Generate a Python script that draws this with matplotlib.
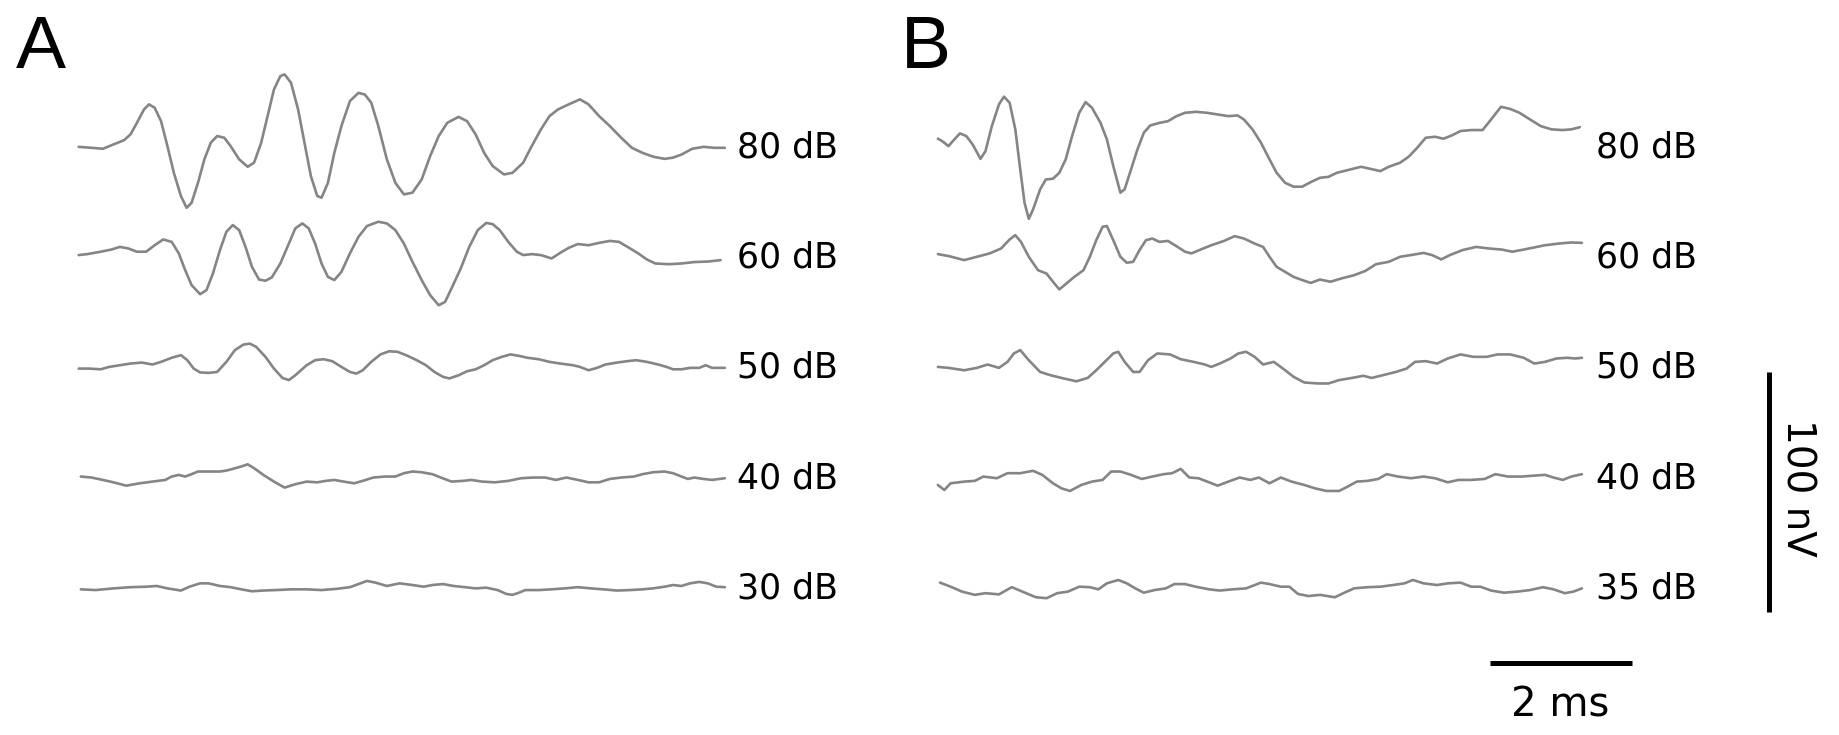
import numpy as np
import matplotlib
matplotlib.use("Agg")
import matplotlib.pyplot as plt

# ABR waveforms: time in ms, amplitude in nV
a80_t = [0.00, 0.18, 0.34, 0.49, 0.64, 0.73, 0.82, 0.92, 0.99, 1.07, 1.16, 1.25, 1.34, 1.44, 1.52, 1.59,
         1.68, 1.77, 1.86, 1.95, 2.05, 2.14, 2.26, 2.38, 2.47, 2.57, 2.66, 2.75, 2.84, 2.90, 2.99, 3.09,
         3.18, 3.27, 3.36, 3.42, 3.51, 3.60, 3.70, 3.82, 3.94, 4.03, 4.12, 4.22, 4.34, 4.46, 4.58, 4.70,
         4.83, 4.95, 5.07, 5.19, 5.35, 5.47, 5.59, 5.71, 5.83, 5.99, 6.11, 6.26, 6.38, 6.51, 6.63, 6.75,
         6.90, 7.06, 7.18, 7.33, 7.48, 7.64, 7.79, 7.94, 8.09, 8.25, 8.37, 8.49, 8.64, 8.80, 8.95, 9.10]
a80_v = [0.1, -0.3, -0.7, 1.1, 2.9, 5.3, 10.1, 15.7, 17.8, 16.4, 10.8, 0.4, -10.7, -20.4, -25.3, -23.2,
         -14.9, -5.1, 1.8, 4.6, 3.9, 0.4, -5.1, -8.2, -6.5, 1.8, 12.9, 24.0, 29.6, 30.3, 26.8, 15.7,
         1.8, -12.1, -20.4, -21.1, -14.9, -2.4, 8.75, 19.2, 22.6, 21.9, 18.5, 8.75, -5.1, -14.9, -19.7, -19.0,
         -13.5, -3.75, 4.6, 10.1, 12.6, 10.8, 5.3, -2.4, -7.9, -11.4, -10.7, -6.5, 0.4, 7.4, 12.9, 15.7,
         17.8, 19.9, 17.8, 12.9, 8.75, 3.9, -0.3, -2.4, -4.0, -4.9, -4.4, -3.1, -0.7, 0.1, -0.3, -0.3]

a60_t = [0.00, 0.12, 0.31, 0.46, 0.58, 0.70, 0.82, 0.95, 1.07, 1.19, 1.31, 1.41, 1.50, 1.59, 1.71, 1.80,
         1.89, 1.99, 2.08, 2.17, 2.26, 2.35, 2.44, 2.54, 2.63, 2.72, 2.84, 2.96, 3.05, 3.15, 3.24, 3.33,
         3.42, 3.51, 3.60, 3.70, 3.82, 3.94, 4.06, 4.22, 4.34, 4.46, 4.58, 4.70, 4.83, 4.95, 5.07, 5.16,
         5.25, 5.38, 5.50, 5.62, 5.74, 5.83, 5.93, 6.05, 6.17, 6.26, 6.38, 6.51, 6.66, 6.78, 6.90, 7.03,
         7.18, 7.33, 7.48, 7.61, 7.73, 7.88, 8.00, 8.12, 8.31, 8.49, 8.67, 8.86, 9.04]
a60_v = [1.0, 1.4, 2.4, 3.3, 4.4, 3.75, 2.4, 2.4, 5.1, 7.5, 6.5, 1.7, -5.3, -11.5, -15.3, -13.6,
         -6.7, 3.1, 10.7, 13.5, 11.4, 4.4, -3.9, -9.2, -9.7, -8.3, -2.5, 5.8, 12.1, 14.2, 12.1, 5.8,
         -2.5, -8.1, -9.4, -6.0, 1.7, 8.6, 13.1, 14.9, 14.2, 11.4, 5.8, -1.8, -9.4, -15.7, -19.9, -18.5,
         -12.9, -4.6, 4.4, 11.4, 14.4, 13.9, 11.4, 6.5, 2.4, 1.0, 1.4, 1.0, -0.4, 1.9, 4.0, 5.6,
         5.1, 6.1, 6.9, 6.5, 4.4, 1.7, -0.8, -2.5, -2.8, -2.5, -1.9, -1.7, -1.1]

a50_t = [0.00, 0.15, 0.31, 0.43, 0.58, 0.73, 0.89, 1.04, 1.16, 1.31, 1.44, 1.53, 1.62, 1.71, 1.83, 1.95,
         2.08, 2.20, 2.32, 2.41, 2.50, 2.63, 2.75, 2.87, 2.96, 3.05, 3.21, 3.33, 3.45, 3.57, 3.70, 3.82,
         3.91, 4.00, 4.12, 4.25, 4.37, 4.49, 4.61, 4.76, 4.89, 5.01, 5.13, 5.22, 5.35, 5.47, 5.59, 5.71,
         5.83, 5.96, 6.08, 6.20, 6.32, 6.48, 6.63, 6.78, 6.96, 7.06, 7.18, 7.30, 7.42, 7.58, 7.73, 7.85,
         8.00, 8.16, 8.28, 8.37, 8.49, 8.61, 8.74, 8.83, 8.92, 9.10]
a50_v = [-0.3, -0.3, -0.6, 0.4, 1.1, 1.8, 2.2, 1.4, 2.5, 4.2, 5.3, 3.2, -0.3, -1.9, -2.1, -1.7,
         2.5, 7.4, 9.7, 10.1, 8.75, 4.6, -0.3, -4.2, -5.1, -3.1, 1.1, 3.2, 3.6, 2.8, 0.4, -1.7,
         -2.4, -1.0, 2.5, 5.6, 6.9, 6.7, 5.3, 3.2, 1.1, -1.7, -3.75, -4.4, -3.1, -1.4, -0.6, 1.1,
         3.2, 4.6, 5.6, 5.0, 4.2, 3.6, 2.5, 1.8, 1.1, 0.4, -1.0, 0.0, 1.4, 2.2, 2.8, 3.2,
         2.5, 1.4, 0.4, -0.6, -0.6, 0.0, 0.0, 1.1, 0.0, 0.0]

a40_t = [0.03, 0.18, 0.34, 0.49, 0.67, 0.86, 1.04, 1.22, 1.31, 1.41, 1.50, 1.59, 1.68, 1.83, 1.99, 2.08,
         2.17, 2.29, 2.38, 2.47, 2.60, 2.75, 2.90, 3.05, 3.21, 3.36, 3.48, 3.60, 3.73, 3.88, 4.00, 4.15,
         4.31, 4.46, 4.58, 4.70, 4.83, 4.98, 5.10, 5.25, 5.41, 5.53, 5.68, 5.86, 6.05, 6.23, 6.41, 6.57,
         6.72, 6.87, 7.03, 7.18, 7.33, 7.48, 7.64, 7.82, 7.94, 8.09, 8.25, 8.37, 8.49, 8.58, 8.67, 8.80,
         8.92, 9.10]
a40_v = [0.7, 0.3, -0.7, -1.7, -3.1, -2.1, -1.4, -0.7, 0.7, 1.4, 0.7, 1.7, 2.8, 2.8, 2.8, 3.2,
         3.9, 4.9, 5.8, 4.2, 1.4, -1.4, -3.9, -2.5, -1.4, -1.7, -1.1, -0.7, -1.4, -2.1, -1.1, 0.3,
         0.7, 0.7, 2.1, 2.8, 2.5, 1.7, 0.3, -1.4, -1.1, -0.7, -1.4, -1.7, -1.1, 0.0, 0.3, 0.3,
         -0.7, 0.3, -0.7, -1.7, -1.7, -0.3, 0.3, 0.7, 1.7, 2.5, 2.8, 2.1, 0.7, -0.3, 0.3, -0.3,
         -0.7, 0.0]

a30_t = [0.03, 0.24, 0.49, 0.73, 0.95, 1.10, 1.25, 1.44, 1.56, 1.71, 1.83, 1.99, 2.14, 2.29, 2.44, 2.60,
         2.78, 2.99, 3.21, 3.42, 3.63, 3.82, 3.94, 4.06, 4.18, 4.34, 4.52, 4.70, 4.86, 4.98, 5.13, 5.28,
         5.44, 5.59, 5.74, 5.90, 6.02, 6.11, 6.20, 6.29, 6.48, 6.66, 6.84, 7.03, 7.21, 7.39, 7.58, 7.76,
         7.94, 8.09, 8.25, 8.37, 8.49, 8.61, 8.74, 8.86, 8.98, 9.10]
a30_v = [-0.3, -0.6, 0.1, 0.6, 0.8, 1.1, 0.1, -0.8, 0.8, 2.2, 2.2, 1.1, 0.6, -0.3, -1.1, -0.8,
         -0.6, -0.3, -0.3, -0.6, -0.1, 0.6, 1.9, 3.2, 2.5, 1.1, 2.2, 1.5, 0.8, 1.5, 1.9, 1.1,
         0.6, 0.1, 0.4, -0.6, -2.2, -2.6, -1.7, -0.6, -0.6, -0.3, 0.1, 0.6, 0.1, -0.3, -0.8, -0.6,
         -0.3, 0.1, 0.8, 1.5, 1.1, 2.2, 2.8, 2.2, 0.8, 0.6]

b80_t = [0.00, 0.06, 0.15, 0.21, 0.31, 0.40, 0.49, 0.60, 0.67, 0.76, 0.86, 0.93, 1.01, 1.09, 1.16, 1.22,
         1.28, 1.34, 1.44, 1.52, 1.62, 1.71, 1.80, 1.89, 1.99, 2.08, 2.17, 2.29, 2.38, 2.47, 2.57, 2.63,
         2.72, 2.81, 2.90, 2.99, 3.12, 3.24, 3.36, 3.48, 3.63, 3.79, 3.94, 4.09, 4.22, 4.31, 4.43, 4.55,
         4.67, 4.77, 4.89, 5.01, 5.13, 5.25, 5.38, 5.50, 5.62, 5.77, 5.96, 6.08, 6.23, 6.35, 6.51, 6.63,
         6.75, 6.87, 7.00, 7.12, 7.24, 7.36, 7.51, 7.67, 7.79, 7.93, 8.06, 8.19, 8.34, 8.49, 8.64, 8.80,
         8.92, 9.04]
b80_v = [3.5, 2.5, 0.4, 2.5, 5.7, 4.6, 1.1, -4.9, -1.7, 8.75, 17.8, 21.0, 18.5, 7.4, -9.3, -23.2,
         -29.9, -26.0, -17.6, -13.5, -13.2, -10.7, -5.1, 4.6, 14.3, 18.75, 16.4, 10.1, 3.2, -7.9, -19.0, -17.6,
         -9.3, -1.0, 6.0, 9.0, 10.1, 10.8, 12.9, 14.3, 14.7, 14.3, 13.6, 12.9, 13.2, 11.5, 7.4, 1.8,
         -5.1, -10.7, -14.9, -16.5, -16.5, -14.6, -12.8, -12.4, -10.7, -9.6, -8.2, -9.0, -10.0, -8.2, -6.5, -4.0,
         -0.3, 3.9, 4.3, 3.5, 4.9, 6.7, 7.1, 7.1, 11.5, 16.8, 15.9, 14.3, 11.5, 8.75, 7.4, 7.1,
         7.4, 8.3]

b60_t = [0.00, 0.15, 0.37, 0.55, 0.73, 0.89, 1.01, 1.09, 1.17, 1.28, 1.41, 1.53, 1.62, 1.71, 1.80, 1.92,
         2.05, 2.14, 2.23, 2.32, 2.38, 2.47, 2.57, 2.66, 2.75, 2.84, 2.93, 3.02, 3.12, 3.24, 3.36, 3.48,
         3.57, 3.70, 3.85, 4.03, 4.18, 4.31, 4.46, 4.58, 4.67, 4.77, 4.89, 5.01, 5.13, 5.25, 5.38, 5.53,
         5.68, 5.86, 6.02, 6.17, 6.35, 6.51, 6.66, 6.84, 6.96, 7.09, 7.21, 7.39, 7.58, 7.76, 7.94, 8.09,
         8.25, 8.40, 8.55, 8.74, 8.92, 9.07]
b60_v = [1.4, 0.6, -1.1, 0.3, 1.7, 3.75, 7.5, 9.3, 6.5, 0.3, -5.3, -6.7, -10.1, -13.3, -11.1, -8.1,
         -5.3, 0.3, 7.2, 12.8, 13.1, 7.2, 0.3, -2.2, -1.8, 3.1, 7.2, 7.9, 6.5, 6.9, 4.7, 2.4,
         1.7, 3.3, 5.1, 6.9, 8.9, 7.9, 5.8, 4.4, 0.3, -3.9, -6.0, -8.1, -9.4, -10.6, -9.2, -10.1,
         -8.75, -7.4, -5.6, -2.8, -1.8, 0.3, 1.0, 1.9, 1.0, -0.8, 1.0, 3.1, 4.4, 3.75, 3.3, 2.4,
         3.3, 4.2, 5.1, 5.8, 6.25, 6.1]

b50_t = [0.00, 0.15, 0.37, 0.55, 0.70, 0.86, 0.98, 1.07, 1.16, 1.28, 1.44, 1.59, 1.77, 1.95, 2.11, 2.23,
         2.35, 2.47, 2.54, 2.63, 2.75, 2.84, 2.96, 3.09, 3.27, 3.42, 3.60, 3.76, 3.85, 3.97, 4.12, 4.23,
         4.34, 4.46, 4.58, 4.73, 4.86, 5.01, 5.16, 5.35, 5.50, 5.65, 5.83, 5.99, 6.11, 6.26, 6.45, 6.60,
         6.72, 6.87, 7.03, 7.18, 7.36, 7.54, 7.73, 7.88, 8.06, 8.25, 8.40, 8.55, 8.71, 8.86, 8.98, 9.07]
b50_v = [0.4, 0.0, -1.0, 0.0, 1.4, 0.0, 2.5, 6.0, 7.4, 3.2, -1.7, -3.1, -4.4, -5.6, -4.2, -1.0,
         2.5, 6.0, 6.7, 2.5, -1.7, -1.7, 3.2, 6.0, 5.6, 3.6, 2.5, 1.4, 0.4, 1.8, 3.9, 6.0,
         6.7, 4.6, 1.4, 2.5, -0.3, -3.75, -6.1, -6.5, -6.5, -5.1, -4.2, -3.3, -4.2, -3.1, -1.7, -0.3,
         2.5, 2.8, 1.8, 3.9, 5.6, 4.6, 4.6, 5.6, 5.6, 4.2, 1.8, 2.5, 3.9, 4.2, 3.9, 4.2]

b40_t = [0.00, 0.09, 0.18, 0.37, 0.52, 0.64, 0.83, 0.98, 1.16, 1.34, 1.47, 1.62, 1.74, 1.86, 2.02, 2.17,
         2.32, 2.44, 2.57, 2.72, 2.87, 3.02, 3.18, 3.30, 3.42, 3.54, 3.67, 3.82, 3.94, 4.09, 4.25, 4.40,
         4.52, 4.67, 4.83, 4.98, 5.16, 5.31, 5.47, 5.65, 5.77, 5.90, 6.05, 6.20, 6.32, 6.48, 6.66, 6.84,
         7.00, 7.18, 7.33, 7.51, 7.70, 7.85, 8.03, 8.22, 8.40, 8.55, 8.67, 8.80, 8.92, 9.07]
b40_v = [-2.8, -4.9, -2.1, -1.4, -1.1, 0.7, 0.0, 2.1, 2.1, 3.1, 1.4, -2.1, -4.2, -5.3, -2.8, -1.4,
         -0.7, 2.8, 2.8, 1.4, -0.3, 0.7, 1.7, 2.1, 3.9, 0.3, 0.0, -1.7, -3.1, -1.4, 0.3, -0.7,
         0.3, -2.1, 0.3, -1.4, -2.8, -4.2, -5.3, -5.3, -3.5, -1.4, -1.1, -0.3, 1.7, 0.7, 0.0, 0.7,
         0.0, -1.7, -0.7, -0.7, -0.3, 1.7, 0.7, 0.7, 1.1, 1.4, 0.3, -0.7, 0.7, 1.7]

b35_t = [0.03, 0.18, 0.34, 0.52, 0.67, 0.86, 1.04, 1.19, 1.38, 1.53, 1.68, 1.83, 1.99, 2.14, 2.26, 2.38,
         2.54, 2.66, 2.78, 2.90, 3.05, 3.21, 3.33, 3.48, 3.63, 3.82, 3.97, 4.15, 4.34, 4.55, 4.67, 4.83,
         4.95, 5.07, 5.22, 5.38, 5.59, 5.71, 5.86, 6.05, 6.23, 6.41, 6.57, 6.69, 6.84, 7.03, 7.18, 7.36,
         7.51, 7.64, 7.79, 7.97, 8.16, 8.34, 8.52, 8.67, 8.83, 8.95, 9.07]
b35_v = [2.5, 0.8, -1.25, -2.6, -1.9, -2.4, 0.6, -1.25, -3.6, -4.0, -1.9, -1.25, 0.8, 0.6, -0.3, 2.2,
         3.6, 2.2, 0.1, -1.7, -0.6, 0.1, 1.9, 1.9, 0.8, -0.3, -0.8, -0.3, 0.1, 2.5, 1.9, 0.8,
         0.8, -2.2, -3.1, -2.6, -3.6, -1.9, 0.1, 0.6, 0.8, 1.5, 2.2, 3.6, 2.2, 1.5, 2.2, 2.5,
         0.8, 0.8, -0.8, -1.7, -1.25, -0.6, 0.6, -0.3, -1.9, -1.25, 0.1]

levels_a = ["80 dB", "60 dB", "50 dB", "40 dB", "30 dB"]
levels_b = ["80 dB", "60 dB", "50 dB", "40 dB", "35 dB"]
traces_a = [(a80_t, a80_v), (a60_t, a60_v), (a50_t, a50_v), (a40_t, a40_v), (a30_t, a30_v)]
traces_b = [(b80_t, b80_v), (b60_t, b60_v), (b50_t, b50_v), (b40_t, b40_v), (b35_t, b35_v)]
offsets = [184, 138, 92, 46, 0]   # nV, vertical stacking of traces
panel_shift = 12.1                # ms, horizontal shift of panel B

fig = plt.figure(figsize=(18.39, 7.35), dpi=100)
ax = fig.add_axes([0, 0, 1, 1])
ax.set_xlim(-1.108, 24.79)
ax.set_ylim(-61.0, 245.3)
ax.axis("off")

trace_color = "#858585"
label_font = dict(fontsize=25, family="DejaVu Sans", color="black", va="center", ha="left")

for shift, traces, labels in [(0, traces_a, levels_a), (panel_shift, traces_b, levels_b)]:
    for (t, v), off, lab in zip(traces, offsets, labels):
        ax.plot(np.array(t) + shift, np.array(v) + off, color=trace_color, lw=1.9,
                solid_joinstyle="round", solid_capstyle="round")
        ax.text(shift + 9.27, off, lab, **label_font)

# panel letters
ax.text(-0.53, 217, "A", fontsize=54, family="Liberation Sans", ha="center", va="baseline")
ax.text(panel_shift - 0.17, 217, "B", fontsize=54, family="Liberation Sans", ha="center", va="baseline")

# scale bars: 2 ms and 100 nV
ax.plot([19.88, 21.88], [-31.1, -31.1], color="black", lw=3.6, solid_capstyle="butt")
ax.text(20.86, -48.5, "2 ms", fontsize=29, family="DejaVu Sans", ha="center", va="center")
ax.plot([23.81, 23.81], [-9.75, 90.25], color="black", lw=3.6, solid_capstyle="butt")
ax.text(24.2, 42, "100 nV", fontsize=28, family="DejaVu Sans", ha="center", va="center",
        rotation=270)

fig.savefig("out.png", dpi=100)
